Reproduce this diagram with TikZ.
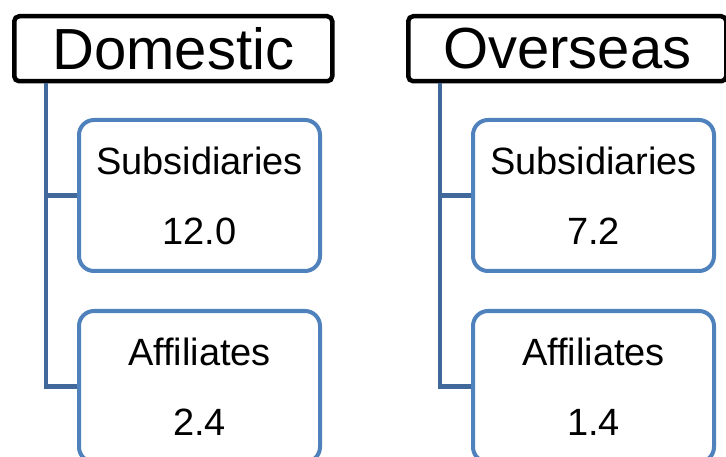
\documentclass[tikz,border=0pt]{standalone}
\usepackage{fontspec}
\setmainfont{Liberation Sans}
\definecolor{boxblue}{RGB}{79,129,189}
\definecolor{linkblue}{RGB}{65,104,155}
\usetikzlibrary{positioning}

\begin{document}
\begin{tikzpicture}[x=1pt, y=-1pt,
  head/.style={draw=black, line width=4.5pt, rounded corners=5pt, fill=white,
    minimum width=318pt, minimum height=65pt, inner sep=0pt,
    font=\fontsize{58}{60}\selectfont},
  unit/.style={draw=boxblue, line width=4pt, rounded corners=15pt, fill=white,
    minimum width=241pt, minimum height=151pt, inner sep=0pt, align=center,
    font=\fontsize{38}{70}\selectfont},
  link/.style={draw=linkblue, line width=4.5pt}]
  \useasboundingbox (0,0) rectangle (726,457);
  \foreach \side/\lab/\x/\subval/\affval in {dom/Domestic/12/12.0/2.4, ovs/Overseas/406/7.2/1.4}{
    \node[head, anchor=north west] (\side) at (\x,14) {\lab};
    \node[unit, anchor=north west] (\side sub) at (\x+65,118) {Subsidiaries\\\subval};
    \node[unit, anchor=north west] (\side aff) at (\x+65,309) {Affiliates\\\affval};
    \coordinate (\side top) at ([xshift=34pt]\side.south west);
    \draw[link] (\side top) |- (\side sub.west);
    \draw[link] (\side top) |- (\side aff.west);
  }
\end{tikzpicture}
\end{document}
